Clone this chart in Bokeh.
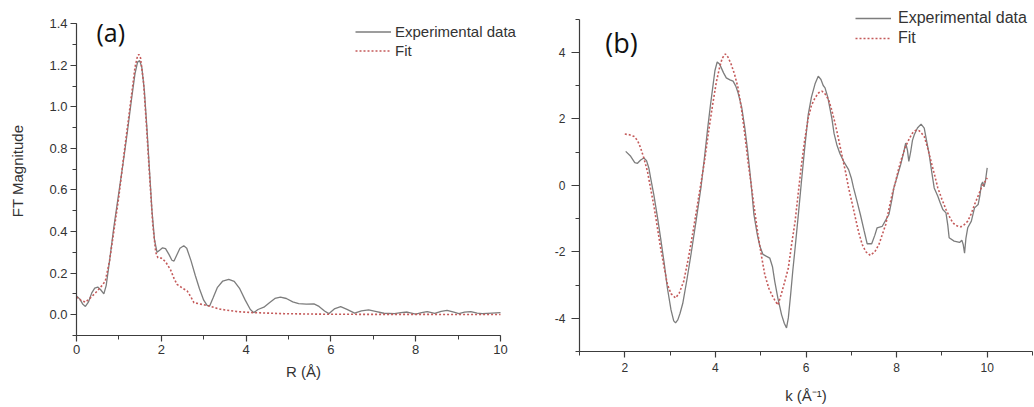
from bokeh.plotting import figure
from bokeh.layouts import row
from bokeh.models import (Range1d, SingleIntervalTicker, PrintfTickFormatter,
                          Legend, LegendItem, Label)
from bokeh.embed import file_html
from bokeh.resources import INLINE

# ---------------- data (a): FT magnitude vs R ----------------
r_exp = [0.00, 0.08, 0.15, 0.21, 0.28, 0.36, 0.43, 0.50, 0.57, 0.645, 0.70, 0.78,
         0.88, 1.00, 1.10, 1.20, 1.30, 1.38, 1.44, 1.49, 1.54, 1.60, 1.66, 1.72,
         1.78, 1.84, 1.90, 1.96, 2.03, 2.10, 2.18, 2.25, 2.30, 2.36, 2.44, 2.53,
         2.60, 2.70, 2.80, 2.90, 3.00, 3.08, 3.14, 3.22, 3.32, 3.45, 3.59, 3.72,
         3.85, 3.98, 4.10, 4.18, 4.28, 4.42, 4.55, 4.68, 4.81, 4.95, 5.10, 5.24,
         5.42, 5.60, 5.72, 5.85, 5.95, 6.08, 6.23, 6.38, 6.56, 6.72, 6.89, 7.05,
         7.25, 7.50, 7.65, 7.80, 8.00, 8.14, 8.27, 8.45, 8.60, 8.74, 8.90, 9.02,
         9.15, 9.30, 9.45, 9.57, 9.80, 10.00]
ft_exp = [0.090, 0.075, 0.050, 0.040, 0.060, 0.105, 0.128, 0.133, 0.120, 0.100, 0.140, 0.260,
          0.420, 0.590, 0.730, 0.880, 1.040, 1.160, 1.215, 1.222, 1.190, 1.080, 0.900, 0.700,
          0.500, 0.360, 0.300, 0.310, 0.322, 0.318, 0.290, 0.262, 0.258, 0.285, 0.320, 0.332,
          0.320, 0.260, 0.190, 0.125, 0.070, 0.045, 0.042, 0.080, 0.130, 0.162, 0.170, 0.160,
          0.125, 0.070, 0.025, 0.010, 0.025, 0.036, 0.058, 0.078, 0.085, 0.078, 0.062, 0.053,
          0.051, 0.052, 0.040, 0.018, 0.005, 0.028, 0.039, 0.026, 0.008, 0.018, 0.023, 0.016,
          0.007, 0.005, 0.010, 0.013, 0.003, 0.010, 0.015, 0.006, 0.016, 0.021, 0.012, 0.005,
          0.012, 0.015, 0.008, 0.005, 0.008, 0.010]

r_fit = [0.00, 0.10, 0.21, 0.35, 0.49, 0.60, 0.68, 0.78, 0.88, 1.00, 1.10, 1.20,
         1.30, 1.38, 1.44, 1.47, 1.51, 1.58, 1.65, 1.72, 1.80, 1.87, 1.92, 2.00,
         2.10, 2.22, 2.30, 2.37, 2.50, 2.61, 2.70, 2.77, 2.90, 3.00, 3.12, 3.40,
         3.79, 4.18, 4.89, 6.00, 8.00, 10.00]
ft_fit = [0.085, 0.070, 0.060, 0.085, 0.114, 0.140, 0.162, 0.260, 0.400, 0.570, 0.740, 0.900,
          1.060, 1.190, 1.245, 1.252, 1.235, 1.120, 0.910, 0.680, 0.430, 0.300, 0.274, 0.272,
          0.255, 0.215, 0.175, 0.146, 0.128, 0.114, 0.085, 0.058, 0.052, 0.048, 0.042, 0.026,
          0.015, 0.010, 0.005, 0.002, 0.0015, 0.001]

# ---------------- data (b): chi(k) vs k ----------------
k_exp = [2.02, 2.13, 2.22, 2.28, 2.35, 2.42, 2.48, 2.53, 2.58, 2.64, 2.72, 2.79,
         2.87, 2.94, 3.02, 3.08, 3.12, 3.17, 3.22, 3.28, 3.37, 3.46, 3.57, 3.68,
         3.76, 3.83, 3.89, 3.94, 3.99, 4.04, 4.09, 4.13, 4.18, 4.24, 4.32, 4.39,
         4.45, 4.50, 4.58, 4.65, 4.71, 4.76, 4.81, 4.85, 4.92, 4.98, 5.05, 5.13,
         5.20, 5.26, 5.31, 5.38, 5.46, 5.52, 5.57, 5.61, 5.66, 5.71, 5.76, 5.83,
         5.90, 5.97, 6.05, 6.12, 6.20, 6.27, 6.33, 6.38, 6.42, 6.48, 6.57, 6.62,
         6.68, 6.75, 6.83, 6.94, 7.00, 7.05, 7.12, 7.20, 7.28, 7.35, 7.45, 7.52,
         7.57, 7.68, 7.76, 7.83, 7.90, 7.94, 8.02, 8.09, 8.15, 8.20, 8.24, 8.27,
         8.31, 8.35, 8.39, 8.46, 8.54, 8.61, 8.66, 8.72, 8.77, 8.83, 8.91, 8.96,
         9.02, 9.09, 9.13, 9.16, 9.27, 9.39, 9.44, 9.47, 9.50, 9.53, 9.57, 9.65,
         9.72, 9.80, 9.84, 9.87, 9.90, 9.93, 9.96, 10.00]
chi_exp = [1.02, 0.87, 0.68, 0.66, 0.76, 0.82, 0.74, 0.52, 0.15, -0.28, -0.95, -1.58,
           -2.35, -3.09, -3.75, -4.08, -4.14, -4.05, -3.85, -3.55, -2.85, -2.09, -1.10, -0.08,
           0.85, 1.72, 2.40, 2.93, 3.45, 3.71, 3.65, 3.53, 3.38, 3.23, 3.17, 3.13,
           2.98, 2.78, 2.35, 1.72, 1.05, 0.42, -0.28, -0.88, -1.45, -1.83, -2.08, -2.14,
           -2.19, -2.45, -2.89, -3.40, -3.89, -4.15, -4.29, -3.99, -3.30, -2.55, -1.88, -0.90,
           0.12, 1.10, 2.13, 2.65, 3.05, 3.28, 3.18, 3.00, 2.93, 2.65, 2.02, 1.55,
           1.22, 0.95, 0.72, 0.47, 0.22, -0.08, -0.45, -0.88, -1.35, -1.76, -1.76, -1.50,
           -1.28, -1.24, -1.05, -0.88, -0.40, -0.08, 0.30, 0.62, 0.95, 1.27, 1.05, 0.72,
           1.00, 1.35, 1.52, 1.72, 1.84, 1.72, 1.35, 0.92, 0.45, -0.08, -0.33, -0.52,
           -0.73, -0.83, -1.20, -1.58, -1.68, -1.72, -1.65, -1.78, -2.04, -1.60, -1.28, -1.08,
           -0.68, -0.58, -0.30, 0.02, 0.10, -0.05, 0.12, 0.52]

k_fit = [2.00, 2.10, 2.20, 2.28, 2.35, 2.42, 2.50, 2.57, 2.65, 2.72, 2.79, 2.87,
         2.94, 3.02, 3.12, 3.20, 3.30, 3.41, 3.52, 3.64, 3.76, 3.85, 3.94, 4.02,
         4.09, 4.15, 4.22, 4.28, 4.35, 4.42, 4.50, 4.58, 4.65, 4.72, 4.80, 4.87,
         4.94, 5.02, 5.09, 5.18, 5.28, 5.38, 5.46, 5.53, 5.61, 5.68, 5.76, 5.83,
         5.90, 5.97, 6.05, 6.12, 6.20, 6.28, 6.35, 6.42, 6.50, 6.57, 6.65, 6.72,
         6.79, 6.87, 6.94, 7.02, 7.09, 7.16, 7.24, 7.32, 7.42, 7.52, 7.61, 7.68,
         7.76, 7.83, 7.90, 7.98, 8.05, 8.12, 8.20, 8.28, 8.35, 8.42, 8.50, 8.56,
         8.61, 8.68, 8.76, 8.84, 8.91, 9.00, 9.09, 9.17, 9.24, 9.33, 9.42, 9.50,
         9.57, 9.65, 9.72, 9.80, 9.87, 9.94, 10.00]
chi_fit = [1.54, 1.52, 1.47, 1.35, 1.12, 0.82, 0.42, -0.10, -0.68, -1.28, -1.88, -2.48,
           -2.98, -3.26, -3.39, -3.25, -2.89, -2.15, -1.28, -0.28, 0.72, 1.62, 2.43, 3.10,
           3.53, 3.82, 3.95, 3.85, 3.63, 3.35, 2.93, 2.25, 1.52, 0.70, -0.08, -0.80,
           -1.48, -2.15, -2.69, -3.10, -3.39, -3.60, -3.25, -2.90, -2.49, -1.80, -1.08, -0.22,
           0.62, 1.35, 2.02, 2.40, 2.63, 2.78, 2.83, 2.75, 2.57, 2.25, 1.82, 1.38,
           0.92, 0.42, -0.08, -0.55, -0.98, -1.40, -1.78, -2.00, -2.11, -2.00, -1.78, -1.50,
           -1.18, -0.72, -0.28, 0.12, 0.52, 0.85, 1.17, 1.40, 1.57, 1.65, 1.64, 1.55,
           1.47, 1.15, 0.72, 0.30, -0.08, -0.42, -0.73, -0.95, -1.13, -1.22, -1.25, -1.18,
           -1.08, -0.85, -0.58, -0.32, -0.08, 0.08, 0.22]

series_labels = ["Experimental data", "Fit"]
panel_labels = ["(a)", "(b)"]
x_labels = ["R (Å)", "k (Å⁻¹)"]
y_label_a = "FT Magnitude"
x_bounds_a = (0, 10.0001)
y_bounds_a = (-0.1, 1.4001)
x_bounds_b = (1, 11)
y_bounds_b = (-5, 5)

EXP_COLOR = "#7d7d7d"
FIT_COLOR = "#c45a5a"
AX_COLOR = "#3c3c3c"
TXT_COLOR = "#333333"
FONT = "Liberation Sans"


def style_axes(p, tick_font, x_std, xlab_std, y_std, ylab_std, x_tick_out, y_tick_out):
    p.outline_line_color = None
    p.grid.visible = False
    p.background_fill_color = "white"
    p.border_fill_color = "white"
    for ax in list(p.xaxis) + list(p.yaxis):
        ax.axis_line_color = AX_COLOR
        ax.axis_line_width = 1.2
        ax.major_tick_line_color = AX_COLOR
        ax.minor_tick_line_color = AX_COLOR
        ax.major_tick_line_width = 1.2
        ax.minor_tick_line_width = 1.0
        ax.major_tick_in = 0
        ax.minor_tick_in = 0
        ax.minor_tick_out = 4
        ax.major_label_text_font = FONT
        ax.major_label_text_font_size = tick_font
        ax.major_label_text_color = TXT_COLOR
        ax.axis_label_text_font = FONT
        ax.axis_label_text_font_size = "15px"
        ax.axis_label_text_font_style = "normal"
        ax.axis_label_text_color = TXT_COLOR
    for ax in p.xaxis:
        ax.major_tick_out = x_tick_out
        ax.major_label_standoff = x_std
        ax.axis_label_standoff = xlab_std
    for ax in p.yaxis:
        ax.major_tick_out = y_tick_out
        ax.major_label_standoff = y_std
        ax.axis_label_standoff = ylab_std


# ---------------- panel (a) ----------------
PX_A = 42.4     # px per R unit
PY_A = 207.9    # px per FT unit
FW_A, FH_A = 454, 329
p1 = figure(frame_width=FW_A, frame_height=FH_A, output_backend="svg", toolbar_location=None,
            x_range=Range1d(0, FW_A / PX_A), y_range=Range1d(-0.1, -0.1 + FH_A / PY_A),
            min_border_left=76, min_border_right=9, min_border_top=6, min_border_bottom=70,
            x_axis_label=x_labels[0], y_axis_label=y_label_a)
p1.xaxis.ticker = SingleIntervalTicker(interval=2, num_minor_ticks=2)
p1.yaxis.ticker = SingleIntervalTicker(interval=0.2, num_minor_ticks=2)
p1.yaxis.formatter = PrintfTickFormatter(format="%.1f")
p1.xaxis.formatter = PrintfTickFormatter(format="%d")
p1.xaxis.bounds = x_bounds_a
p1.yaxis.bounds = y_bounds_a
style_axes(p1, "13px", 3, 6, 3, 20, 6, 6)

ra = p1.line(r_exp, ft_exp, line_color=EXP_COLOR, line_width=1.3)
rf = p1.line(r_fit, ft_fit, line_color=FIT_COLOR, line_width=1.6, line_dash="2 2")

leg1 = Legend(items=[LegendItem(label=series_labels[0], renderers=[ra]),
                     LegendItem(label=series_labels[1], renderers=[rf])],
              location=(279, 275), padding=0, margin=0, spacing=0,
              glyph_width=36, glyph_height=19, label_height=19, label_standoff=4,
              label_text_font=FONT, label_text_font_size="15px", label_text_color=TXT_COLOR,
              border_line_color=None, background_fill_alpha=0)
p1.add_layout(leg1)
p1.add_layout(Label(x=0.47, y=1.362, text=panel_labels[0], text_font="Open Sans",
                    text_font_size="25px", text_color="#111111", text_baseline="alphabetic"))

# ---------------- panel (b) ----------------
PY_B = 33.25    # px per chi unit
FW_B, FH_B = 453, 345
p2 = figure(frame_width=FW_B, frame_height=FH_B, output_backend="svg", toolbar_location=None,
            x_range=Range1d(1, 11), y_range=Range1d(-5, -5 + FH_B / PY_B),
            min_border_left=40, min_border_right=1, min_border_top=6, min_border_bottom=54,
            x_axis_label=x_labels[1])
p2.xaxis.ticker = SingleIntervalTicker(interval=2, num_minor_ticks=2)
p2.yaxis.ticker = SingleIntervalTicker(interval=2, num_minor_ticks=2)
p2.yaxis.formatter = PrintfTickFormatter(format="%d")
p2.xaxis.formatter = PrintfTickFormatter(format="%d")
p2.xaxis.bounds = x_bounds_b
p2.yaxis.bounds = y_bounds_b
style_axes(p2, "12px", 5, 12, 6, 10, 6, 8)

rb = p2.line(k_exp, chi_exp, line_color=EXP_COLOR, line_width=1.3)
rbf = p2.line(k_fit, chi_fit, line_color=FIT_COLOR, line_width=1.6, line_dash="2 2")

leg2 = Legend(items=[LegendItem(label=series_labels[0], renderers=[rb]),
                     LegendItem(label=series_labels[1], renderers=[rbf])],
              location=(276, 303), padding=0, margin=0, spacing=0,
              glyph_width=36, glyph_height=20, label_height=20, label_standoff=7,
              label_text_font=FONT, label_text_font_size="16px", label_text_color=TXT_COLOR,
              border_line_color=None, background_fill_alpha=0)
p2.add_layout(leg2)
p2.add_layout(Label(x=1.57, y=4.29, text=panel_labels[1], text_font="Open Sans",
                    text_font_size="27px", text_color="#111111", text_baseline="alphabetic"))

layout = row(p1, p2, spacing=0)
open("out.html", "w").write(file_html(layout, INLINE))
